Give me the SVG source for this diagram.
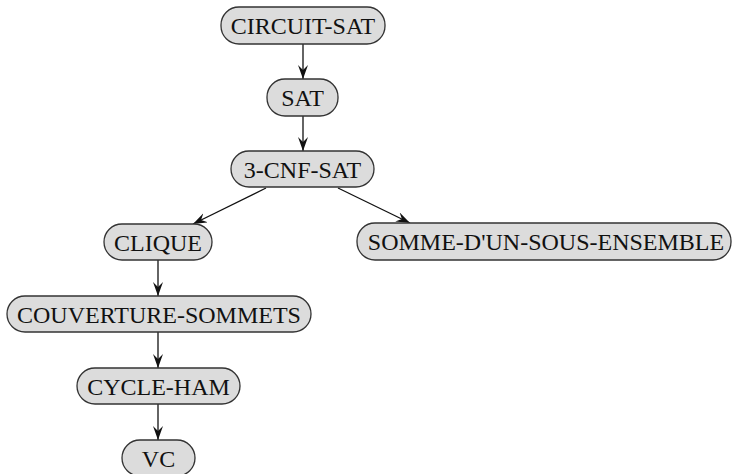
<svg xmlns="http://www.w3.org/2000/svg" width="733" height="474" viewBox="0 0 733 474">
<style>
.n rect{fill:#dcdcdc;stroke:#333;stroke-width:1.3}
.n text{font-family:"Liberation Serif",serif;font-size:24px;fill:#111;text-anchor:middle}
.e path{stroke:#111;stroke-width:1.3;fill:none;marker-end:url(#ah)}
</style>
<defs>
<marker id="ah" markerWidth="15" markerHeight="11" refX="14" refY="5" orient="auto" markerUnits="userSpaceOnUse">
<path d="M0,0 L14,5 L0,10 L5,5 z" fill="#111"/>
</marker>
</defs>
<g class="e">
<path d="M303,44 L303,79"/>
<path d="M303,116 L303,151"/>
<path d="M266,188 L193,224"/>
<path d="M338,188 L410,223"/>
<path d="M158,260 L158,296"/>
<path d="M158,332 L158,368"/>
<path d="M158,404 L158,440"/>
</g>
<g id="circuit-sat" class="n"><rect x="221" y="7" width="164" height="37" rx="18"/><text x="303" y="33.5">CIRCUIT-SAT</text></g>
<g id="sat" class="n"><rect x="267" y="79" width="71" height="37" rx="18"/><text x="302.5" y="105.5">SAT</text></g>
<g id="3-cnf-sat" class="n"><rect x="231" y="151" width="143" height="36" rx="18"/><text x="302.5" y="177.5">3-CNF-SAT</text></g>
<g id="clique" class="n"><rect x="104" y="224" width="108" height="36" rx="18"/><text x="158" y="250.5">CLIQUE</text></g>
<g id="somme" class="n"><rect x="357" y="223" width="374" height="37" rx="18"/><text x="546" y="249.5">SOMME-D'UN-SOUS-ENSEMBLE</text></g>
<g id="couverture" class="n"><rect x="7" y="296" width="304" height="36" rx="18"/><text x="159" y="322.5">COUVERTURE-SOMMETS</text></g>
<g id="cycle-ham" class="n"><rect x="77" y="368" width="163" height="36" rx="18"/><text x="158.5" y="394.5">CYCLE-HAM</text></g>
<g id="vc" class="n"><rect x="122" y="440" width="73" height="36" rx="18"/><text x="158.5" y="466.5">VC</text></g>
</svg>
